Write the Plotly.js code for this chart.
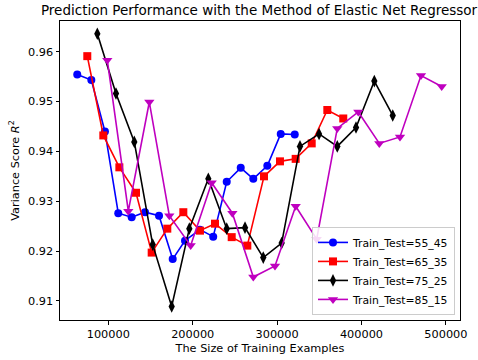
<!DOCTYPE html>
<html><head><meta charset="utf-8">
<script src="https://cdn.plot.ly/plotly-3.0.1.min.js"></script>
<style>html,body{margin:0;padding:0;background:#fff}#chart{width:478px;height:360px}</style>
</head><body><div id="chart"></div>
<script>
var names = ["Train_Test=55_45","Train_Test=65_35","Train_Test=75_25","Train_Test=85_15"];
var x55 = [63200,79900,96000,111800,127700,143500,160100,176300,190900,208600,224300,240300,256900,271800,288400,304300,320900];
var y55 = [0.9554,0.9543,0.9440,0.9276,0.9268,0.9278,0.9271,0.9184,0.9221,0.9243,0.9229,0.9339,0.9367,0.9345,0.9371,0.9435,0.9434];
var x65 = [75100,94100,113100,132800,151400,169900,188900,208600,226400,246200,264700,284500,303400,322000,341000,359500,378400];
var y65 = [0.9591,0.9432,0.9368,0.9317,0.9197,0.9245,0.9278,0.9241,0.9255,0.9228,0.9211,0.9350,0.9380,0.9385,0.9416,0.9483,0.9466];
var x75 = [87000,109100,130800,152600,175100,196000,218500,240300,262000,283600,305400,327100,349700,371300,393500,415200,437000];
var y75 = [0.9636,0.9516,0.9419,0.9213,0.9089,0.9245,0.9345,0.9245,0.9247,0.9187,0.9216,0.9410,0.9435,0.9410,0.9448,0.9541,0.9472];
var x85 = [98800,123700,148600,172300,197600,222500,247000,271800,297500,322000,346900,371300,396200,421100,445600,470500,495000];
var y85 = [0.9583,0.9280,0.9499,0.9271,0.9211,0.9337,0.9276,0.9148,0.9170,0.9290,0.9224,0.9446,0.9479,0.9416,0.9429,0.9552,0.9530];

var colors = ["#0000ff","#ff0000","#000000","#bf00bf"];
var symbols = ["circle","square","diamond-tall","triangle-down"];
var sizes = [8,8,9,9];
var xs=[x55,x65,x75,x85], ys=[y55,y65,y75,y85];
var data = xs.map(function(x,i){return {x:x,y:ys[i],name:names[i],type:'scatter',mode:'lines+markers',
  line:{color:colors[i],width:1.6},marker:{color:colors[i],symbol:symbols[i],size:sizes[i],line:{width:0}}};});
var font = {family:"DejaVu Sans, sans-serif",size:11.3,color:"#000"};
var lfont = {family:"DejaVu Sans, sans-serif",size:10.8,color:"#000"};
var layout = {
  width:478,height:360,margin:{l:60,r:18,t:21,b:40},
  paper_bgcolor:"#fff",plot_bgcolor:"#fff",font:font,showlegend:true,
  title:{text:"Prediction Performance with the Method of Elastic Net Regressor",font:{family:"DejaVu Sans, sans-serif",size:13.5,color:"#000"},x:0.542,xanchor:'center',y:0.972,yanchor:'middle'},
  xaxis:{range:[42770,516700],tickvals:[100000,200000,300000,400000,500000],ticktext:["100000","200000","300000","400000","500000"],
    showgrid:false,zeroline:false,showline:true,mirror:true,linecolor:"#000",linewidth:1,ticks:'outside',ticklen:3.5,tickwidth:1,tickcolor:'#000',
    title:{text:"The Size of Training Examples",font:font,standoff:4},tickfont:font},
  yaxis:{range:[0.90618,0.96615],tickvals:[0.91,0.92,0.93,0.94,0.95,0.96],ticktext:["0.91","0.92","0.93","0.94","0.95","0.96"],
    showgrid:false,zeroline:false,showline:true,mirror:true,linecolor:"#000",linewidth:1,ticks:'outside',ticklen:3.5,tickwidth:1,tickcolor:'#000',
    title:{text:"Variance Score <i>R</i><sup>2</sup>",font:font,standoff:6},tickfont:font},
  legend:{x:0.9875,xanchor:'right',y:0.017,yanchor:'bottom',bgcolor:'rgba(255,255,255,0.85)',bordercolor:'#cccccc',borderwidth:1,
    font:lfont,tracegroupgap:0,itemwidth:30}
};
Plotly.newPlot('chart',data,layout,{displayModeBar:false,staticPlot:true});
</script></body></html>
